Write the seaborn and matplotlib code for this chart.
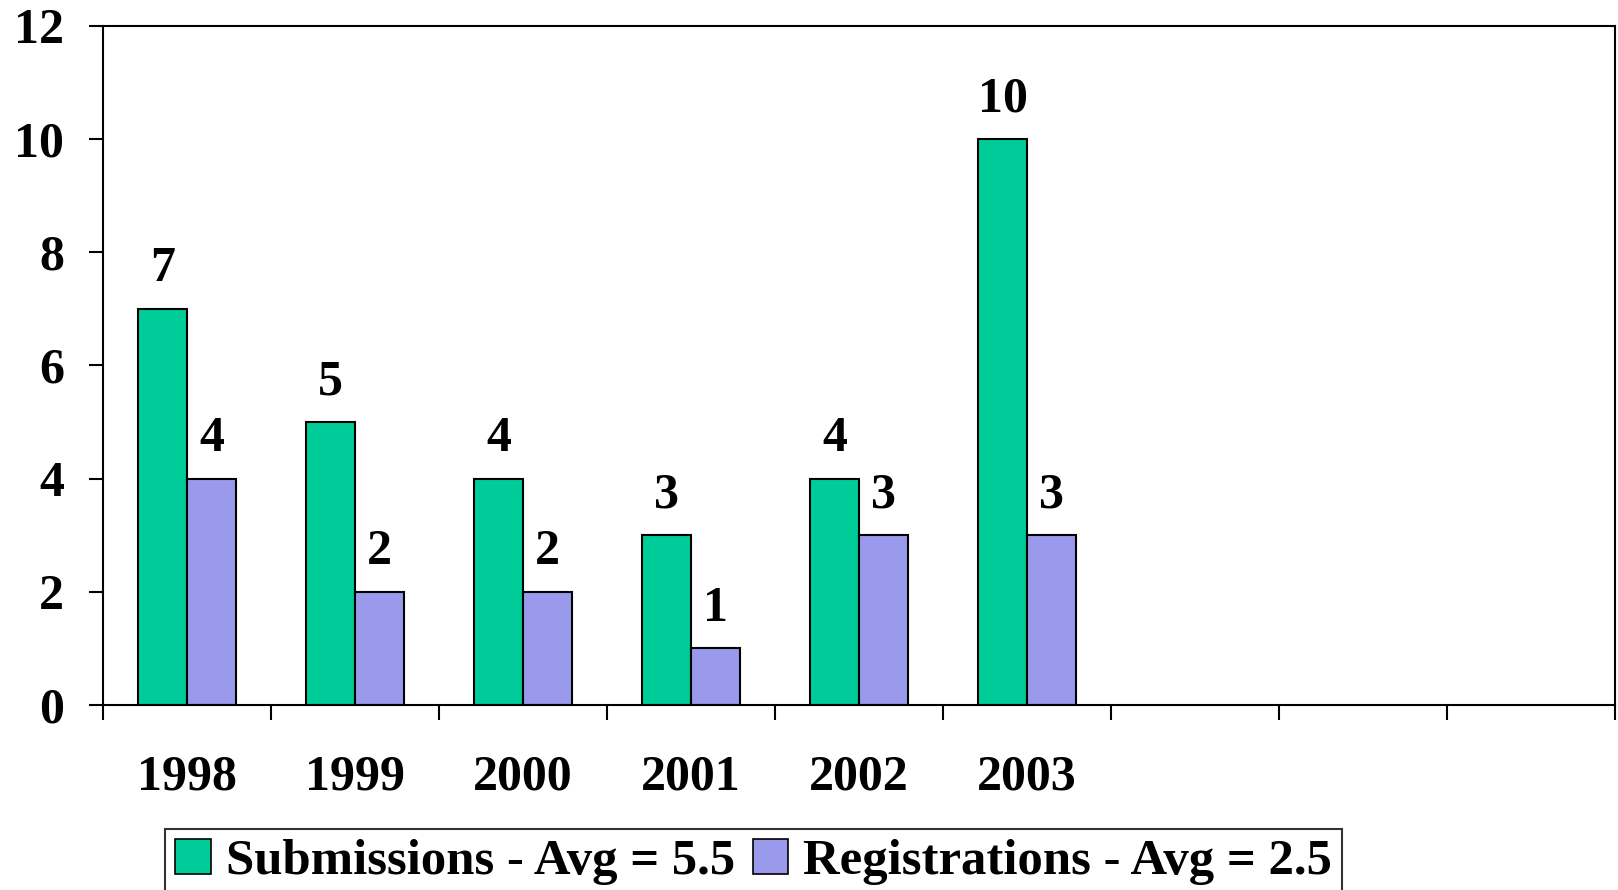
import matplotlib
matplotlib.use('Agg')
import matplotlib.pyplot as plt
import seaborn as sns
import pandas as pd
from matplotlib.patches import Patch
from matplotlib.ticker import FixedLocator

years = ['1998', '1999', '2000', '2001', '2002', '2003']
empty_slots = [' ', '  ', '   ']
submissions = [7, 5, 4, 3, 4, 10]
registrations = [4, 2, 2, 1, 3, 3]
series_names = ['Submissions - Avg = 5.5', 'Registrations - Avg = 2.5']
colors = ['#00CC99', '#9A9AEC']

df = pd.DataFrame({
    'year': years * 2,
    'count': submissions + registrations,
    'series': [series_names[0]] * len(years) + [series_names[1]] * len(years),
})

sns.set_style('white', {'text.color': 'black', 'axes.labelcolor': 'black',
                        'xtick.color': 'black', 'ytick.color': 'black',
                        'axes.edgecolor': 'black'})
plt.rcParams['font.family'] = ['Liberation Serif', 'DejaVu Serif']
plt.rcParams['font.weight'] = 'bold'

fig = plt.figure(figsize=(16.18, 8.9), dpi=100)
ax = fig.add_axes([0.0637, 0.208, 0.9343, 0.763])

order = years + empty_slots
sns.barplot(data=df, x='year', y='count', hue='series', order=order,
            hue_order=series_names, palette=colors, width=0.58,
            edgecolor='black', linewidth=1.5, saturation=1, legend=False, ax=ax)

for bars in ax.containers:
    ax.bar_label(bars, fmt='%d', padding=12, fontsize=36, fontweight='bold', color='black')

ax.set_ylim(0, 12)
ax.set_xlim(-0.5, len(order) - 0.5)
ax.set_yticks(range(0, 13, 2))
ax.tick_params(axis='y', labelsize=36, length=10, width=1.5, pad=18, direction='out', left=True)
ax.set_xticks(range(len(order)))
ax.set_xticklabels(order)
ax.tick_params(axis='x', which='major', labelsize=36, length=0, pad=36)
ax.xaxis.set_minor_locator(FixedLocator([i - 0.5 for i in range(len(order) + 1)]))
ax.tick_params(axis='x', which='minor', length=11, width=1.5, direction='out', bottom=True)
for lbl in ax.get_xticklabels() + ax.get_yticklabels():
    lbl.set_fontweight('bold')
ax.set_xlabel('')
ax.set_ylabel('')
for sp in ax.spines.values():
    sp.set_visible(True)
    sp.set_color('black')
    sp.set_linewidth(1.5)

handles = [Patch(facecolor=c, edgecolor='black', linewidth=1.2) for c in colors]
leg = fig.legend(handles, series_names, loc='lower left', bbox_to_anchor=(0.102, -0.006),
                 ncol=2, frameon=True, fancybox=False, edgecolor='black',
                 prop={'size': 36.5, 'weight': 'bold'}, handlelength=0.7, handleheight=0.7,
                 handletextpad=0.3, columnspacing=0.35, borderpad=0.2, borderaxespad=0)
leg.get_frame().set_linewidth(1.5)

fig.savefig('out.png', dpi=100)
